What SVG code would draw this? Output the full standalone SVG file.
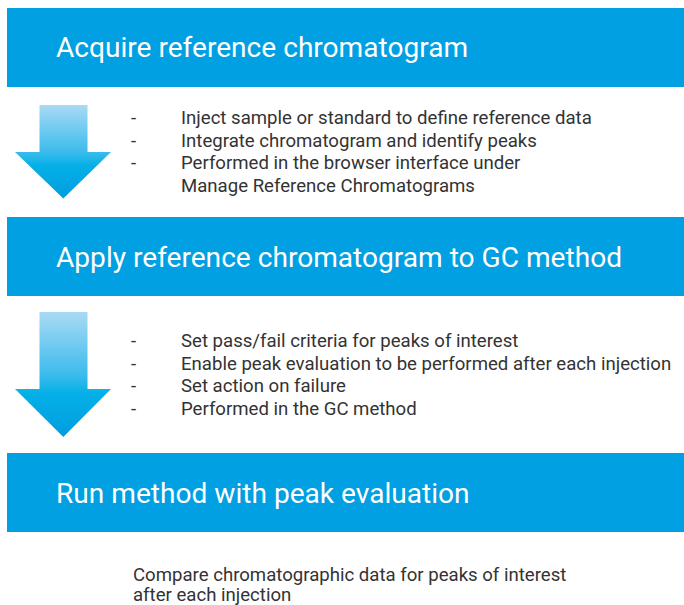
<svg xmlns="http://www.w3.org/2000/svg" width="684" height="605" viewBox="0 0 684 605">
<defs>
<linearGradient id="ag" x1="0" y1="0" x2="0" y2="1">
<stop offset="0" stop-color="#a9daf4"/>
<stop offset="0.5" stop-color="#3cbcec"/>
<stop offset="0.65" stop-color="#04b0e8"/>
<stop offset="1" stop-color="#009ddf"/>
</linearGradient>
<style>
.box{fill:#00a0e2}
.title{font-family:Roboto,"Noto Sans",sans-serif;font-size:28.1px;fill:#ffffff}
.txt{font-family:Roboto,"Noto Sans",sans-serif;font-size:18.6px;fill:#333333}
.arrow{fill:url(#ag)}
</style>
</defs>
<g id="step1">
<rect class="box" x="7" y="8" width="677" height="79"/>
<text class="title" x="56" y="57">Acquire reference chromatogram</text>
</g>
<g id="notes1">
<text class="txt" x="131" y="124">-</text>
<text class="txt" x="181" y="124">Inject sample or standard to define reference data</text>
<text class="txt" x="131" y="146.5">-</text>
<text class="txt" x="181" y="146.5">Integrate chromatogram and identify peaks</text>
<text class="txt" x="131" y="169">-</text>
<text class="txt" x="181" y="169">Performed in the browser interface under</text>
<text class="txt" x="181" y="191.5">Manage Reference Chromatograms</text>
</g>
<g id="step2">
<rect class="box" x="7" y="217" width="677" height="79"/>
<text class="title" x="56" y="267">Apply reference chromatogram to GC method</text>
</g>
<g id="notes2">
<text class="txt" x="131" y="347">-</text>
<text class="txt" x="181" y="347">Set pass/fail criteria for peaks of interest</text>
<text class="txt" x="131" y="369.5">-</text>
<text class="txt" x="181" y="369.5">Enable peak evaluation to be performed after each injection</text>
<text class="txt" x="131" y="392">-</text>
<text class="txt" x="181" y="392">Set action on failure</text>
<text class="txt" x="131" y="414.5">-</text>
<text class="txt" x="181" y="414.5">Performed in the GC method</text>
</g>
<g id="step3">
<rect class="box" x="7" y="453" width="677" height="79"/>
<text class="title" x="56" y="503">Run method with peak evaluation</text>
</g>
<g id="notes3">
<text class="txt" x="133" y="580.5">Compare chromatographic data for peaks of interest</text>
<text class="txt" x="133" y="600.5">after each injection</text>
</g>
<g id="connectors">
<path class="arrow" d="M39.5,105 H87.5 V152 H111 L63.3,198.5 L15,152 H39.5 Z"/>
<path class="arrow" d="M39.5,312 H87.5 V389 H111 L63.3,437 L15,389 H39.5 Z"/>
</g>
</svg>
